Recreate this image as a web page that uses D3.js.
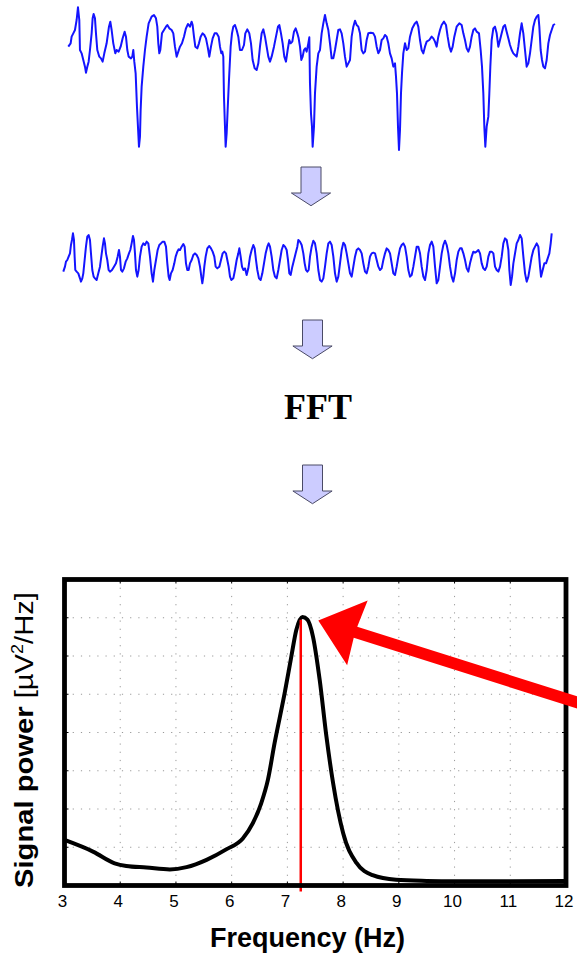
<!DOCTYPE html>
<html><head><meta charset="utf-8">
<script src="https://cdn.jsdelivr.net/npm/d3@7"></script>
<style>body{margin:0;background:#fff}svg{display:block}</style>
</head><body>
<svg id="c" width="577" height="953"></svg>
<script>
// ---- raw EEG trace (samples, µV) ----
const rawTime = [0,7,10,15,20,25,29,33,35,40,45,50,53,57,61,65,70,73,76,80,83,87,93,98,103,108,115,122,126,130,135,141,145,151,157,163,169,173,177,181,188,192,195,198,202,206,210,212,215,217,220,225,230,235,241,250,257,263,267,270,273,276,281,287,293,297,303,310,315,320,325,330,335,341,347,353,359,365,370,373,377,381,387,392,397,403,408,413,418,423,428,433,439,445,451,455,459,462,465,467,470,472,475,478,482,487,491,495,500,505,510,515,521,527,531,537,543,548,553,559,565,570,575,580,585,590,595,600,605,610,617,623,629,633,638,643,648,653,658,663,667,672,677,682,687,691,695,699,703,707,711,715,720,723,725,728,731,733,737,740,745,750,755,760,765,770,775,780,785,790,795,800,805,810,815,820,825,830,835,840,845,850,855,860,865,870,875,880,885,890,895,900,907,915,920,925,930,935,940,945,950,955,960,965,970,975,980,983,986,989,992,995,998,1001,1005,1010,1015,1020,1025,1032,1040,1045,1050,1055,1060,1065,1070,1075,1083,1090,1095,1100,1105,1110,1115,1120,1127,1133,1138,1143,1148,1153,1158,1165,1173,1180,1185,1190,1195,1200,1205,1210,1215,1220,1225,1232,1237,1241,1245,1248,1251,1255,1260,1263,1266,1270,1275,1280,1285,1290,1295,1300,1305,1310,1315,1320,1325,1330,1335,1340,1345,1350,1355,1360,1365,1370,1375,1380,1385,1390,1395,1400,1405,1410,1413,1417,1421,1425,1430,1435,1440,1445,1450,1455,1460];
const rawAmp = [10,20,40,50,60,90,128,90,0,-10,-30,-50,-68,-50,-35,0,50,95,108,95,50,0,-20,-25,-35,-10,20,70,85,60,20,-10,0,-5,10,35,55,40,0,-20,-25,-20,0,-35,-70,-170,-250,-290,-260,-180,-110,-50,0,40,80,100,105,95,70,20,-10,0,50,60,70,75,65,60,50,10,-20,-5,10,20,40,65,78,70,85,75,40,10,5,20,40,50,45,35,10,-20,10,35,50,50,40,10,-10,-5,-20,-140,-230,-290,-250,-180,-90,10,50,70,75,60,40,0,0,15,50,62,50,20,-30,-55,-60,-40,10,50,62,40,10,-20,-35,-20,10,40,70,75,50,20,-20,-35,0,30,20,25,55,65,50,35,10,-30,-20,0,5,-5,20,38,-100,-190,-230,-290,-230,-130,-50,-10,0,50,80,105,80,60,20,-25,-25,0,30,60,62,50,20,-20,-50,-40,-30,40,70,88,75,70,50,0,-10,-5,30,50,52,50,40,10,-10,0,30,35,45,40,20,-10,-25,-50,-40,-80,-130,-230,-300,-240,-130,-70,-10,20,0,5,40,65,80,85,70,30,0,-10,10,25,30,40,35,25,10,40,60,75,85,75,40,10,-5,10,40,70,80,75,50,30,5,-5,10,40,60,65,55,50,0,-50,-130,-230,-290,-230,-200,-130,-50,30,65,70,50,10,30,50,70,75,55,35,15,0,-10,-15,-20,10,50,80,50,0,-50,-40,-10,30,70,90,100,105,70,0,-30,-50,-55,-30,20,45,60,75,78];

// ---- filtered trace (samples, µV) ----
const filtTime = [0,5,8,12,16,20,23,26,29,32,34,36,40,45,50,53,57,60,64,68,72,76,80,83,87,91,95,100,105,110,114,118,122,125,128,132,136,140,146,152,158,163,167,170,173,177,182,187,192,197,201,205,209,212,215,218,222,226,230,235,240,245,250,255,260,265,269,273,278,283,288,293,298,303,308,312,316,319,323,328,333,337,342,346,350,355,360,364,368,372,376,380,385,390,395,400,405,410,414,417,420,423,427,432,438,443,448,453,457,462,468,473,478,483,488,492,496,500,504,510,515,520,525,528,532,536,540,545,550,555,560,565,570,574,578,582,587,592,597,602,607,612,616,620,625,630,635,640,645,650,655,660,665,670,674,678,682,687,692,697,702,705,710,715,720,724,728,732,736,740,745,750,755,760,765,770,775,780,785,790,795,800,805,810,815,820,825,830,835,840,845,850,855,860,865,870,875,880,885,890,895,900,905,910,915,920,925,930,935,940,945,950,955,960,965,970,975,980,985,990,995,1000,1005,1010,1015,1020,1025,1030,1035,1040,1045,1050,1055,1060,1065,1070,1075,1080,1085,1090,1095,1100,1105,1110,1115,1120,1125,1130,1135,1140,1145,1150,1155,1160,1165,1170,1175,1180,1185,1190,1195,1200,1205,1210,1215,1220,1225,1230,1235,1240,1245,1250,1255,1260,1265,1270,1275,1280,1285,1290,1295,1300,1305,1310,1315,1320,1325,1330,1335,1338,1342,1346,1350,1355,1360,1365,1370,1375,1380,1385,1390,1395,1400,1405,1410,1415,1420,1425,1430,1433,1438,1443,1448,1453,1458,1462,1465];
const filtAmp = [-5,10,25,30,40,50,75,90,110,90,40,0,-5,-10,-25,-35,-25,-10,30,70,100,105,90,50,0,-20,-25,-30,-10,10,40,70,95,80,50,30,0,-5,0,10,20,40,60,40,0,-5,5,25,35,50,60,80,102,90,50,0,-20,0,40,70,80,75,85,80,40,-10,-35,0,30,60,75,80,85,85,70,20,-20,-30,-10,0,20,40,55,62,60,70,78,70,20,0,0,20,30,45,50,45,35,10,-20,-40,-20,10,40,65,72,65,55,40,10,5,10,30,50,55,50,30,10,-20,-30,-25,0,30,50,65,40,10,0,5,-15,5,40,60,75,65,30,0,-25,-30,-10,20,50,70,80,70,40,0,-20,-25,0,30,60,75,70,60,30,-10,-15,10,30,50,70,90,85,75,50,20,0,-5,0,40,70,88,80,50,0,-30,-35,-25,10,50,80,85,75,40,-10,-35,-20,20,60,82,75,50,20,-10,-20,10,40,60,65,60,50,20,-5,-10,10,40,50,52,50,30,10,0,5,30,50,65,60,50,20,-10,-15,10,40,65,75,80,70,40,0,-20,-15,10,40,70,70,50,10,-20,-30,0,50,75,85,70,10,-40,-30,10,50,75,88,75,50,10,-20,-35,-10,30,55,65,65,50,30,5,-5,20,40,55,52,55,60,50,20,5,0,10,40,55,55,50,10,0,-5,10,40,80,95,90,60,0,-45,-20,20,50,80,90,105,95,40,-10,-35,-20,10,40,60,70,80,70,10,-20,0,20,20,35,50,80,110];

// ---- power spectrum ----
const freqHz = [3,3.52,3.9,4.11,4.47,4.89,5.19,5.55,5.91,6.2,6.38,6.53,6.65,6.77,6.95,7.07,7.16,7.27,7.36,7.46,7.58,7.70,7.82,8.0,8.24,8.53,8.95,9.5,10,11,12];
const powerVal = [1.19,0.88,0.58,0.51,0.47,0.42,0.48,0.67,0.95,1.23,1.63,2.15,2.76,3.72,5.02,5.98,6.68,7.02,6.95,6.5,5.37,3.9,2.68,1.37,0.59,0.27,0.15,0.12,0.11,0.11,0.12];
const peakHz = 7.24;
const xTicks = [3,4,5,6,7,8,9,10,11,12];
const yTicks = [1,2,3,4,5,6,7];

const svg = d3.select("#c");

// traces
const xRaw = d3.scaleLinear().domain([0,1460]).range([68.3,555]);
const yRaw = d3.scaleLinear().domain([-300,150]).range([150,0]);
const xFilt = d3.scaleLinear().domain([0,1465]).range([63.3,551.7]);
const yFilt = d3.scaleLinear().domain([-90,150]).range([300,220]);

svg.append("path")
  .attr("d", d3.line().x(i=>xRaw(rawTime[i])).y(i=>yRaw(rawAmp[i]))(d3.range(Math.min(rawTime.length, rawAmp.length))))
  .attr("fill","none").attr("stroke","#1414ff").attr("stroke-width",2).attr("stroke-linejoin","round");
svg.append("path")
  .attr("d", d3.line().x(i=>xFilt(filtTime[i])).y(i=>yFilt(filtAmp[i]))(d3.range(Math.min(filtTime.length, filtAmp.length))))
  .attr("fill","none").attr("stroke","#1414ff").attr("stroke-width",2).attr("stroke-linejoin","round");

// block arrows
function blockArrow(cx, top) {
  const sw = 10, hw = 19.6, shaftH = 26, headH = 12.7;
  const p = d3.path();
  p.moveTo(cx-sw, top); p.lineTo(cx+sw, top); p.lineTo(cx+sw, top+shaftH);
  p.lineTo(cx+hw, top+shaftH); p.lineTo(cx, top+shaftH+headH); p.lineTo(cx-hw, top+shaftH);
  p.lineTo(cx-sw, top+shaftH); p.closePath();
  svg.append("path").attr("d", p.toString()).attr("fill","#ccccff").attr("stroke","#4a4a66").attr("stroke-width",1);
}
blockArrow(311, 167);
blockArrow(312.5, 320);
blockArrow(312.5, 465);

svg.append("text").attr("x",318).attr("y",419).attr("text-anchor","middle")
  .attr("font-family","'Liberation Serif','Times New Roman',serif").attr("font-weight","bold")
  .attr("font-size",36).text("FFT");

// spectrum chart
const x = d3.scaleLinear().domain([3,12]).range([64.5,566]);
const y = d3.scaleLinear().domain([0,8]).range([885.5,579.5]);
const g = svg.append("g");

// grid
g.selectAll(".vg").data(xTicks.slice(1,-1)).join("line")
  .attr("x1",d=>x(d)).attr("x2",d=>x(d)).attr("y1",y(8)).attr("y2",y(0))
  .attr("stroke","#999").attr("stroke-width",1).attr("stroke-dasharray","1.2,7");
g.selectAll(".hg").data(yTicks).join("line")
  .attr("y1",d=>y(d)).attr("y2",d=>y(d)).attr("x1",x(3)).attr("x2",x(12))
  .attr("stroke","#999").attr("stroke-width",1).attr("stroke-dasharray","1.2,7");

// inner ticks
const tl = 4;
g.selectAll(".xtb").data(xTicks.slice(1,-1)).join("line")
  .attr("x1",d=>x(d)).attr("x2",d=>x(d)).attr("y1",y(0)).attr("y2",y(0)-tl).attr("stroke","#000");
g.selectAll(".xtt").data(xTicks.slice(1,-1)).join("line")
  .attr("x1",d=>x(d)).attr("x2",d=>x(d)).attr("y1",y(8)).attr("y2",y(8)+tl).attr("stroke","#000");
g.selectAll(".ytl").data(yTicks).join("line")
  .attr("y1",d=>y(d)).attr("y2",d=>y(d)).attr("x1",x(3)).attr("x2",x(3)+tl).attr("stroke","#000");
g.selectAll(".ytr").data(yTicks).join("line")
  .attr("y1",d=>y(d)).attr("y2",d=>y(d)).attr("x1",x(12)).attr("x2",x(12)-tl).attr("stroke","#000");

// curve
g.append("path")
  .attr("d", d3.line().x(i=>x(freqHz[i])).y(i=>y(powerVal[i])).curve(d3.curveMonotoneX)(d3.range(freqHz.length)))
  .attr("fill","none").attr("stroke","#000").attr("stroke-width",4).attr("stroke-linejoin","round");

// red peak line
g.append("line").attr("x1",x(peakHz)).attr("x2",x(peakHz)).attr("y1",y(6.95)).attr("y2",y(0)+6)
  .attr("stroke","#ff0000").attr("stroke-width",2.5);

// frame
g.append("rect").attr("x",x(3)).attr("y",y(8)).attr("width",x(12)-x(3)).attr("height",y(0)-y(8))
  .attr("fill","none").attr("stroke","#000").attr("stroke-width",4.8);

// tick labels
g.selectAll(".xl").data(xTicks).join("text")
  .attr("x",d=>x(d)-2).attr("y",906.5).attr("text-anchor","middle")
  .attr("font-family","'Liberation Sans',Arial,sans-serif").attr("font-size",17).text(d=>d);

// axis titles
svg.append("text").attr("x",307.5).attr("y",947).attr("text-anchor","middle")
  .attr("font-family","'Liberation Sans',Arial,sans-serif").attr("font-weight","bold").attr("font-size",27)
  .text("Frequency (Hz)");
const yl = svg.append("text").attr("text-anchor","middle")
  .attr("font-family","'Liberation Sans',Arial,sans-serif").attr("font-size",26);
yl.append("tspan").attr("font-weight","bold").text("Signal power ");
yl.append("tspan").text("[µV");
yl.append("tspan").attr("font-size",16).attr("dy",-10).text("2");
yl.append("tspan").attr("dy",10).text("/Hz]");
const ylLen = yl.node().getComputedTextLength() || 262;
yl.attr("transform",`translate(33,740) rotate(-90) scale(${296/ylLen},1)`);

// red annotation arrow
(function(){
  const tip = [318.3, 620.5], tail = [620, 716];
  const dx = tail[0]-tip[0], dy = tail[1]-tip[1], L = Math.hypot(dx,dy);
  const u = [dx/L, dy/L], n = [-u[1], u[0]];
  const headL = 41, headW = 34, shaftW = 5.8;
  const pt = (a,b)=>[tip[0]+u[0]*a+n[0]*b, tip[1]+u[1]*a+n[1]*b];
  const pts = [pt(0,0), pt(headL,-headW), pt(headL-2,-shaftW), pt(L,-shaftW), pt(L,shaftW), pt(headL-2,shaftW), pt(headL,headW)];
  svg.append("polygon").attr("points", pts.map(p=>p.join(",")).join(" ")).attr("fill","#ff0000");
})();
</script>
</body></html>
